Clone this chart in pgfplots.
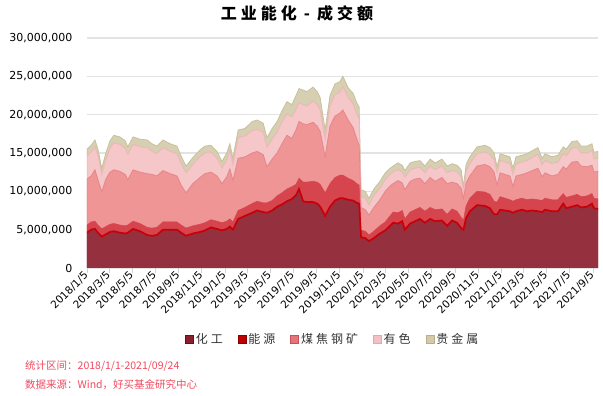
\documentclass[border=0pt]{standalone}
\usepackage{fontspec}
\setmainfont{DejaVu Sans}
\newfontfamily\cjk{Noto Sans CJK SC}
\usepackage{pgfplots}
\pgfplotsset{compat=1.18}
\usepackage{pgfplotstable}
\definecolor{cHG}{HTML}{95303F}
\definecolor{cNY}{HTML}{D6454D}
\definecolor{cRed}{HTML}{C80008}
\definecolor{cMJ}{HTML}{EF9596}
\definecolor{cMJd}{HTML}{E8868A}
\definecolor{cYS}{HTML}{F6C7C9}
\definecolor{cYSd}{HTML}{F0B8BB}
\definecolor{cGJ}{HTML}{D6CFB2}
\definecolor{cGJd}{HTML}{C9C09E}
\definecolor{lHG}{HTML}{8A1F2E}
\definecolor{lHGd}{HTML}{6B0E1C}
\definecolor{lNY}{HTML}{C00000}
\definecolor{lNYd}{HTML}{8B0000}
\definecolor{lMJ}{HTML}{E8737A}
\definecolor{lMJd}{HTML}{C85058}
\definecolor{lYS}{HTML}{F5C0C4}
\definecolor{lYSd}{HTML}{E8A5AA}
\definecolor{lGJ}{HTML}{D2CAA8}
\definecolor{lGJd}{HTML}{B8AE88}
\definecolor{gridc}{HTML}{E3E3E3}
\definecolor{tickc}{HTML}{D0D0D0}
\definecolor{noteC}{HTML}{F2495E}
\definecolor{legtext}{HTML}{333333}
\pgfplotstableread{
d hg ny mj ys gj
0 4.6 1.0 6.0 3.0 0.9
11 5.0 1.0 6.0 3.1 0.9
21 5.1 1.0 6.7 3.0 0.9
29 4.6 1.0 5.9 3.1 0.9
39 4.1 1.0 4.8 2.2 0.9
50 4.4 1.0 6.2 2.5 0.9
61 4.7 1.0 6.8 3.1 1.0
71 4.8 1.0 7.0 3.5 1.0
87 4.6 1.0 7.0 3.5 1.0
101 4.5 1.0 6.7 3.4 1.0
108 4.6 1.0 5.9 3.3 1.0
122 5.1 1.0 6.7 3.3 1.0
140 4.8 1.0 6.7 3.3 1.0
159 4.3 1.0 7.0 3.4 1.0
172 4.2 1.0 7.0 3.0 1.0
185 4.3 1.0 6.7 2.9 1.0
201 5.0 1.0 6.7 3.0 1.0
220 5.0 1.0 6.3 2.9 1.0
238 5.0 1.0 6.0 2.9 1.0
249 4.6 1.0 5.2 2.8 1.0
262 4.2 1.0 4.6 2.6 0.9
280 4.5 1.0 5.5 2.5 0.9
299 4.7 1.0 6.1 2.7 0.9
312 4.9 1.0 6.4 2.7 0.9
328 5.3 1.0 6.2 2.6 0.9
344 5.1 1.0 5.9 2.3 0.9
357 4.9 1.0 5.1 2.0 0.9
370 5.1 1.0 5.8 2.2 0.9
378 5.4 1.0 6.5 2.4 0.9
386 5.0 1.0 5.4 2.0 0.9
400 6.4 1.1 6.8 2.7 1.0
418 6.8 1.1 6.6 2.7 1.0
437 7.2 1.2 6.6 2.9 1.2
450 7.5 1.2 6.5 2.9 1.2
466 7.3 1.2 6.3 2.9 1.2
476 7.2 1.3 4.7 2.5 1.3
490 7.5 1.3 5.4 2.6 1.4
503 8.0 1.4 5.6 2.7 1.4
516 8.3 1.5 6.4 2.8 1.5
529 8.7 1.6 7.0 2.8 1.6
542 9.0 1.6 6.3 2.8 1.6
553 9.5 1.4 7.1 2.7 1.8
561 10.3 1.4 7.4 2.4 1.9
572 8.7 2.5 7.6 2.5 1.9
582 8.6 2.6 7.5 2.4 1.9
598 8.6 2.7 7.7 2.8 1.8
609 8.4 2.8 7.3 2.8 1.7
617 8.0 2.9 6.9 2.7 1.7
630 6.8 3.0 4.7 2.2 1.3
643 8.0 3.0 7.5 2.6 1.4
656 8.8 3.0 8.0 2.8 1.4
669 9.1 3.0 8.1 2.7 1.4
677 9.1 3.0 8.5 3.0 1.4
691 8.9 2.8 7.6 2.9 1.3
704 8.8 2.6 6.9 3.1 1.4
714 8.5 2.5 5.8 3.2 1.5
720 8.4 2.4 5.2 3.5 1.5
725 4.0 0.9 3.0 1.4 0.9
736 3.9 0.9 2.8 1.5 0.9
746 3.5 0.8 2.6 1.3 0.9
759 3.9 0.9 3.1 1.5 0.9
775 4.5 1.0 3.4 1.5 0.9
789 4.9 1.1 4.0 1.5 0.9
802 5.5 1.3 3.9 1.5 0.8
810 5.9 1.4 3.7 1.5 0.8
823 5.8 1.4 4.2 1.4 0.9
834 6.1 1.4 3.6 1.4 0.9
841 5.0 1.4 3.8 1.6 0.9
855 5.8 1.5 4.0 1.5 0.9
868 6.1 1.5 4.0 1.4 0.9
881 6.4 1.5 3.8 1.4 0.9
894 5.9 1.5 3.6 1.4 0.9
908 6.4 1.5 3.9 1.5 0.9
921 6.1 1.5 3.7 1.5 0.9
939 6.2 1.5 4.1 1.5 0.9
953 5.5 1.5 4.0 1.4 0.9
966 6.2 1.5 3.5 1.5 0.9
979 5.9 1.5 3.6 1.5 0.9
990 5.2 1.4 3.8 1.5 0.9
996 5.0 1.2 2.8 0.9 0.7
1003 6.5 1.6 3.0 1.5 0.9
1013 7.4 1.7 2.9 1.6 0.9
1032 8.2 1.8 3.3 1.6 0.9
1053 8.1 1.8 3.6 1.6 0.9
1066 7.8 1.8 3.6 1.6 0.9
1077 7.0 1.7 3.8 1.6 0.9
1085 7.0 1.6 2.2 1.5 0.9
1093 7.6 1.7 3.1 1.6 0.9
1106 7.5 1.6 3.1 1.6 0.9
1119 7.4 1.5 3.1 1.6 0.9
1127 7.2 1.5 1.9 1.5 0.9
1135 7.4 1.5 3.1 1.6 0.9
1151 7.6 1.5 3.1 1.6 0.9
1164 7.4 1.5 3.5 1.6 0.9
1178 7.5 1.5 3.7 1.7 0.9
1193 7.4 1.5 4.1 1.8 0.9
1204 7.3 1.5 3.1 1.5 0.9
1212 7.6 1.5 3.3 1.6 0.9
1230 7.4 1.5 3.1 1.6 0.9
1246 7.4 1.5 3.3 1.6 0.9
1260 8.4 1.3 3.5 1.7 0.9
1268 7.8 1.4 3.7 1.7 0.9
1283 8.0 1.4 4.4 1.8 0.9
1297 8.2 1.4 4.3 1.8 0.9
1307 7.9 1.4 4.0 1.7 0.9
1323 8.0 1.4 3.8 1.8 0.9
1336 8.4 1.3 3.7 1.9 0.9
1341 7.8 1.3 3.4 1.7 0.9
1352 7.7 1.3 3.6 1.7 0.9
}\data
\pgfplotsset{
  frame/.style={at={(87pt,128pt)}, anchor=south west,
    scale only axis, width=511pt, height=230pt,
    xmin=0, xmax=1352, ymin=0, ymax=30},
}
\begin{document}
\begin{tikzpicture}[x=1pt,y=1pt]
\path (0,0) rectangle (603,396);
\begin{axis}[
  frame,
  stack plots=y,
  axis line style={draw=none},
  ymajorgrids, grid style={draw=gridc, line width=1.2pt},
  ytick={0,5,10,15,20,25,30},
  yticklabels={0,{5,000,000},{10,000,000},{15,000,000},{20,000,000},{25,000,000},{30,000,000}},
  ytick style={draw=none},
  yticklabel style={font=\fontsize{11}{13}\selectfont, anchor=east, xshift=-6pt},
  xtick={0,59,120,181,243,304,365,424,485,546,608,669,730,790,851,912,974,1035,1096,1155,1216,1277,1339},
  xticklabels={2018/1/5,2018/3/5,2018/5/5,2018/7/5,2018/9/5,2018/11/5,2019/1/5,2019/3/5,2019/5/5,2019/7/5,2019/9/5,2019/11/5,2020/1/5,2020/3/5,2020/5/5,2020/7/5,2020/9/5,2020/11/5,2021/1/5,2021/3/5,2021/5/5,2021/7/5,2021/9/5},
  xtick pos=bottom, tick align=outside, major tick length=5pt,
  xtick style={draw=tickc, line width=0.8pt},
  xticklabel style={font=\fontsize{10.5}{12}\selectfont, rotate=45, anchor=east, inner sep=1pt},
  legend image code/.code={\draw[#1, line width=0.6pt] (0pt,-4pt) rectangle (8pt,4pt);},
  legend style={at={(0.481,-0.309)}, anchor=center, draw=none, fill=none,
    legend columns=5, font=\cjk\fontsize{12}{14}\selectfont, text=legtext,
    /tikz/every even column/.append style={column sep=13pt}},
]
\addplot[fill=cHG, draw=cHG, line width=0.5pt, forget plot] table[x=d,y=hg]{\data} \closedcycle;
\addplot[fill=cNY, draw=cNY, line width=0.5pt, forget plot] table[x=d,y=ny]{\data} \closedcycle;
\addplot[fill=cMJ, draw=cMJd, line width=0.8pt, forget plot] table[x=d,y=mj]{\data} \closedcycle;
\addplot[fill=cYS, draw=cYSd, line width=0.8pt, forget plot] table[x=d,y=ys]{\data} \closedcycle;
\addplot[fill=cGJ, draw=cGJd, line width=0.8pt, forget plot] table[x=d,y=gj]{\data} \closedcycle;
\addlegendimage{fill=lHG, draw=lHGd}
\addlegendentry{化\hspace{3pt}工}
\addlegendimage{fill=lNY, draw=lNYd}
\addlegendentry{能\hspace{3pt}源}
\addlegendimage{fill=lMJ, draw=lMJd}
\addlegendentry{煤\hspace{3pt}焦\hspace{3pt}钢\hspace{3pt}矿}
\addlegendimage{fill=lYS, draw=lYSd}
\addlegendentry{有\hspace{3pt}色}
\addlegendimage{fill=lGJ, draw=lGJd}
\addlegendentry{贵\hspace{3pt}金\hspace{3pt}属}
\end{axis}
% overlay: the red edge on top of the 化工 layer
\begin{axis}[frame, hide axis]
\addplot[draw=cRed, line width=1.7pt, no markers] table[x=d,y=hg]{\data};
\end{axis}
\node[font=\cjk\bfseries\fontsize{16}{18}\selectfont, text=black] at (297,383)
  {工\hspace{4pt}业\hspace{4pt}能\hspace{4pt}化\hspace{7pt}-\hspace{7pt}成\hspace{4pt}交\hspace{4pt}额};
\node[anchor=west, inner sep=0pt, text=noteC, font=\cjk\fontsize{10.5}{12}\selectfont] at (25,30) {统计区间：2018/1/1-2021/09/24};
\node[anchor=west, inner sep=0pt, text=noteC, font=\cjk\fontsize{10.5}{12}\selectfont] at (25,11) {数据来源：Wind，好买基金研究中心};
\end{tikzpicture}
\end{document}
